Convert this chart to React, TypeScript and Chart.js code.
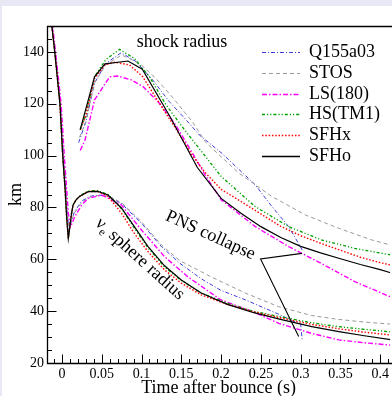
import React, { useEffect, useRef } from "react";
import { Chart, registerables } from "chart.js";

Chart.register(...registerables);

// ---------- axes ----------
const X_MIN = -0.01875;
const X_MAX = 0.4125;
const Y_MIN = 20;
const Y_MAX = 150;
const X_TICKS = [0, 0.05, 0.1, 0.15, 0.2, 0.25, 0.3, 0.35, 0.4];
const X_TICK_LABELS = ["0", "0.05", "0.1", "0.15", "0.2", "0.25", "0.3", "0.35", "0.4"];
const Y_TICKS = [20, 40, 60, 80, 100, 120, 140];
const Y_TICK_LABELS = ["20", "40", "60", "80", "100", "120", "140"];
const X_TITLE = "Time after bounce (s)";
const Y_TITLE = "km";

// ---------- models ----------
const MODELS = ["Q155a03", "STOS", "LS(180)", "HS(TM1)", "SFHx", "SFHo"];

// shock radius (km) vs time after bounce (s)
const Q155_SHOCK_T = [0.021, 0.03, 0.041, 0.055, 0.0745, 0.093, 0.114, 0.135, 0.156, 0.1725, 0.201, 0.243, 0.264, 0.285, 0.302];
const Q155_SHOCK_R = [105, 113, 128, 135.5, 139.7, 136.3, 129.2, 120.8, 113.8, 108, 100.9, 88.7, 80.3, 72.6, 63.6];
const STOS_SHOCK_T = [0.022, 0.03, 0.041, 0.055, 0.075, 0.0975, 0.118, 0.139, 0.164, 0.181, 0.2225, 0.264, 0.306, 0.3475, 0.389, 0.413];
const STOS_SHOCK_R = [107, 113, 128, 135, 138.8, 135.6, 129.8, 122.5, 113, 105, 93.2, 84.2, 77.1, 72, 67.5, 65.5];
const LS_SHOCK_T = [0.023, 0.029, 0.041, 0.06, 0.07, 0.087, 0.102, 0.1225, 0.143, 0.164, 0.18, 0.2, 0.243, 0.285, 0.326, 0.368, 0.413];
const LS_SHOCK_R = [102, 106, 121.5, 130.4, 130.7, 129.2, 126.6, 120.2, 111.8, 101, 92.5, 83, 72.6, 64.9, 58.4, 51.4, 45.5];
const HS_SHOCK_T = [0.023, 0.03, 0.041, 0.055, 0.0725, 0.091, 0.11, 0.131, 0.151, 0.168, 0.2, 0.243, 0.285, 0.326, 0.368, 0.413];
const HS_SHOCK_R = [110, 115.5, 130.5, 137, 141, 137.5, 130.4, 119.5, 111.2, 104.5, 92, 80.3, 72.6, 67.5, 64.2, 61.7];
const SFHX_SHOCK_T = [0.023, 0.03, 0.041, 0.054, 0.066, 0.085, 0.1016, 0.1225, 0.143, 0.164, 0.18, 0.2, 0.225, 0.25, 0.275, 0.3, 0.325, 0.35, 0.375, 0.4, 0.413];
const SFHX_SHOCK_R = [110, 115.5, 129.8, 135, 136, 135, 130.4, 120.2, 110.5, 100, 93.5, 87, 82.3, 77.5, 72.7, 69.1, 66.2, 63.5, 60.8, 58.7, 57.8];
const SFHO_SHOCK_T = [0.023, 0.041, 0.054, 0.083, 0.101, 0.135, 0.17, 0.2, 0.225, 0.25, 0.275, 0.3, 0.325, 0.35, 0.375, 0.4, 0.413];
const SFHO_SHOCK_R = [110, 130.4, 135.4, 136.5, 133.3, 115.5, 95.5, 83.5, 77.8, 72.6, 68.4, 65, 62.5, 60.2, 58, 56, 54.8];

// electron-neutrino sphere radius (km) vs time after bounce (s)
const Q155_NU_T = [-0.0145, -0.009, -0.002, 0.002, 0.005, 0.007, 0.009, 0.012, 0.016, 0.025, 0.035, 0.047, 0.06, 0.0745, 0.1, 0.125, 0.148, 0.175, 0.2, 0.231, 0.2725, 0.29, 0.3, 0.302];
const Q155_NU_R = [155, 140, 120, 100, 87, 77, 71, 75, 78.5, 82.5, 84.3, 84.8, 84, 81.6, 73.9, 64.9, 58.5, 52.5, 48, 44.3, 38.8, 36.2, 35, 28.5];
const STOS_NU_T = [-0.0145, -0.009, -0.002, 0.002, 0.005, 0.007, 0.009, 0.012, 0.016, 0.025, 0.035, 0.05, 0.06, 0.075, 0.1, 0.125, 0.148, 0.189, 0.231, 0.2725, 0.314, 0.348, 0.38, 0.413];
const STOS_NU_R = [155, 140, 120, 100, 87, 77, 71, 75, 78, 82, 84, 84.8, 84.2, 81.8, 74.5, 65.5, 59.5, 53, 46.9, 41.7, 38.3, 36.8, 35.8, 35];
const LS_NU_T = [-0.0135, -0.008, -0.001, 0.003, 0.006, 0.008, 0.0105, 0.013, 0.016, 0.025, 0.033, 0.05, 0.0745, 0.1, 0.129, 0.158, 0.2, 0.239, 0.2725, 0.314, 0.348, 0.38, 0.413];
const LS_NU_R = [155, 140, 120, 100, 87, 78, 72.5, 74, 76.4, 81, 83.5, 84.8, 81, 71.3, 61, 53.3, 44.3, 39.9, 35.3, 31.4, 28.9, 27.8, 26.9];
const NU_T = [-0.0145, -0.009, -0.0025, 0.001, 0.004, 0.006, 0.008, 0.0105, 0.012, 0.014, 0.018, 0.0225, 0.033, 0.045, 0.058, 0.075, 0.091, 0.108, 0.129, 0.15, 0.175, 0.208, 0.24, 0.272, 0.314, 0.348, 0.38, 0.413];
const HS_NU_R = [155, 140, 120, 100, 87, 76, 68, 74, 77.5, 81, 83, 84.5, 86.4, 86.5, 85, 79.5, 72, 64.5, 57, 51.8, 47, 43, 40, 38, 35.5, 34, 33, 32];
const SFHX_NU_R = [155, 140, 120, 100, 87, 76, 68, 74, 77.5, 81, 83, 84.3, 86.1, 86.2, 84.3, 77.7, 70, 63, 55.9, 50.8, 46.3, 42.6, 39.8, 37.6, 34.9, 33.2, 31.9, 30.8];
const SFHO_NU_R = [155, 140, 120, 100, 87, 76, 68, 74, 77.5, 81, 83, 84.3, 86.1, 86.2, 84.8, 79.7, 72.6, 65, 57.5, 52, 47, 42.6, 39.5, 37, 34, 32.1, 30.5, 29];

// annotation pointer lines (from the "PNS collapse" label to the collapse points)
const PNS_POINTER_T = [0.3016, 0.2496, 0.2975];
const PNS_POINTER_R = [62.3, 60.1, 30.2];

// text labels: anchor in data coordinates
const SHOCK_LABEL = { text: "shock radius", t: 0.094, r: 141.9 };
const PNS_LABEL = { text: "PNS collapse", t: 0.129, r: 75.3 };
const NU_LABEL = { t: 0.041, r: 73.4 };

// ---------- styles ----------
const FONT = "'Liberation Serif', 'Times New Roman', serif";
const STYLES: Record<string, { color: string; width: number; dash: number[] }> = {
  "Q155a03": { color: "#3c3cdc", width: 1, dash: [4, 2, 1, 2] },
  "STOS": { color: "#9a9a9a", width: 1, dash: [4, 3] },
  "LS(180)": { color: "#ff00ff", width: 1.4, dash: [5, 2, 1.5, 2] },
  "HS(TM1)": { color: "#00a000", width: 1.3, dash: [3, 2, 1.2, 2, 1.2, 2] },
  "SFHx": { color: "#ff0000", width: 1.4, dash: [1.5, 1.8] },
  "SFHo": { color: "#000000", width: 1.2, dash: [] },
};

const SERIES: Record<string, [number[], number[], number[], number[]]> = {
  "Q155a03": [Q155_SHOCK_T, Q155_SHOCK_R, Q155_NU_T, Q155_NU_R],
  "STOS": [STOS_SHOCK_T, STOS_SHOCK_R, STOS_NU_T, STOS_NU_R],
  "LS(180)": [LS_SHOCK_T, LS_SHOCK_R, LS_NU_T, LS_NU_R],
  "HS(TM1)": [HS_SHOCK_T, HS_SHOCK_R, NU_T, HS_NU_R],
  "SFHx": [SFHX_SHOCK_T, SFHX_SHOCK_R, NU_T, SFHX_NU_R],
  "SFHo": [SFHO_SHOCK_T, SFHO_SHOCK_R, NU_T, SFHO_NU_R],
};

const pts = (xs: number[], ys: number[]) => xs.map((x, i) => ({ x, y: ys[i] }));

function lineDs(label: string, xs: number[], ys: number[], s: { color: string; width: number; dash: number[] }) {
  return {
    label,
    data: pts(xs, ys),
    borderColor: s.color,
    backgroundColor: s.color,
    borderWidth: s.width,
    borderDash: s.dash,
    pointRadius: 0,
    pointHoverRadius: 0,
    tension: 0,
    fill: false,
  };
}

const bgPlugin = {
  id: "bgPlugin",
  beforeDraw(chart: any) {
    const { ctx, width, height } = chart;
    ctx.save();
    ctx.fillStyle = "#e8e8f4";
    ctx.fillRect(0, 0, width, height);
    ctx.fillStyle = "#ffffff";
    ctx.fillRect(2, 6, width - 2, height - 6);
    ctx.restore();
  },
};

const framePlugin = {
  id: "framePlugin",
  afterDraw(chart: any) {
    const { ctx, chartArea: a, scales } = chart;
    const xs = scales.x;
    const ys = scales.y;
    ctx.save();
    ctx.strokeStyle = "#000";
    ctx.setLineDash([]);
    ctx.lineWidth = 1.3;
    const L = Math.round(a.left) + 0.5;
    const B = Math.round(a.bottom) + 0.5;
    const T = Math.round(a.top) + 0.5;
    ctx.beginPath();
    ctx.moveTo(a.right + 2, T);
    ctx.lineTo(L, T);
    ctx.lineTo(L, B);
    ctx.lineTo(a.right + 2, B);
    ctx.stroke();

    ctx.lineWidth = 1;
    ctx.beginPath();
    // x ticks (inward)
    for (let k = -1; k <= 41; k++) {
      const v = k / 100;
      if (v < X_MIN || v > X_MAX) continue;
      const px = Math.round(xs.getPixelForValue(v)) + 0.5;
      const len = k % 5 === 0 ? 9 : 4.5;
      ctx.moveTo(px, B);
      ctx.lineTo(px, B - len);
    }
    // y ticks (inward)
    for (let v = 20; v <= 150; v += 5) {
      const py = Math.round(ys.getPixelForValue(v)) + 0.5;
      const len = v % 20 === 0 ? 9 : 4.5;
      ctx.moveTo(L, py);
      ctx.lineTo(L + len, py);
    }
    ctx.stroke();

    // text labels
    ctx.fillStyle = "#000";
    ctx.font = `18px ${FONT}`;
    ctx.textBaseline = "alphabetic";
    ctx.textAlign = "left";
    ctx.fillText(SHOCK_LABEL.text, xs.getPixelForValue(SHOCK_LABEL.t), ys.getPixelForValue(SHOCK_LABEL.r));

    ctx.save();
    ctx.translate(xs.getPixelForValue(PNS_LABEL.t), ys.getPixelForValue(PNS_LABEL.r));
    ctx.rotate((24.5 * Math.PI) / 180);
    ctx.fillText(PNS_LABEL.text, 0, 0);
    ctx.restore();

    ctx.save();
    ctx.translate(xs.getPixelForValue(NU_LABEL.t), ys.getPixelForValue(NU_LABEL.r));
    ctx.rotate((42 * Math.PI) / 180);
    ctx.font = `18px ${FONT}`;
    ctx.fillText("\u03bd", 0, 0);
    let w = ctx.measureText("\u03bd").width;
    ctx.font = `12px ${FONT}`;
    ctx.fillText("e", w, 4);
    w += ctx.measureText("e").width;
    ctx.font = `18px ${FONT}`;
    ctx.fillText(" sphere radius", w, 0);
    ctx.restore();

    // legend
    const lx1 = a.left + 215;
    const lx2 = a.left + 253;
    const tx = a.left + 262;
    MODELS.forEach((m, i) => {
      const s = STYLES[m];
      const y = Math.round(a.top + 26 + i * 20.8) + 0.5;
      ctx.strokeStyle = s.color;
      ctx.lineWidth = m === "SFHo" ? 1.6 : s.width;
      ctx.setLineDash(s.dash);
      ctx.beginPath();
      ctx.moveTo(lx1, y);
      ctx.lineTo(lx2, y);
      ctx.stroke();
      ctx.setLineDash([]);
      ctx.fillStyle = "#000";
      ctx.font = `18px ${FONT}`;
      ctx.textBaseline = "middle";
      ctx.fillText(m, tx, y);
    });
    ctx.restore();
  },
};

export default function App() {
  const ref = useRef<HTMLCanvasElement | null>(null);
  useEffect(() => {
    if (!ref.current) return;
    const datasets: any[] = [];
    datasets.push(lineDs("pointer", PNS_POINTER_T, PNS_POINTER_R, { color: "#000", width: 1.1, dash: [] }));
    const order = ["SFHo", "SFHx", "HS(TM1)", "LS(180)", "STOS", "Q155a03"];
    for (const m of order) {
      const [st, sr, nt, nr] = SERIES[m];
      datasets.push(lineDs(m + " shock", st, sr, STYLES[m]));
      datasets.push(lineDs(m + " nu", nt, nr, STYLES[m]));
    }
    const chart = new Chart(ref.current, {
      type: "line",
      data: { datasets },
      plugins: [bgPlugin, framePlugin],
      options: {
        animation: false,
        responsive: false,
        devicePixelRatio: 1,
        layout: { padding: { top: 26, left: 0, right: 0, bottom: 0 } },
        plugins: { legend: { display: false }, tooltip: { enabled: false } },
        events: [],
        scales: {
          x: {
            type: "linear",
            min: X_MIN,
            max: X_MAX,
            grid: { display: false, drawTicks: false },
            border: { display: false },
            afterBuildTicks: (s: any) => {
              s.ticks = X_TICKS.map((v) => ({ value: v }));
            },
            afterFit: (s: any) => {
              s.height = 33;
            },
            ticks: {
              autoSkip: false,
              maxRotation: 0,
              padding: 3,
              color: "#000",
              font: { family: FONT, size: 14 },
              callback: (_v: any, i: number) => X_TICK_LABELS[i],
            },
            title: {
              display: true,
              text: X_TITLE,
              color: "#000",
              font: { family: FONT, size: 18, lineHeight: 1 },
              padding: { top: 0, bottom: -1 },
            },
          },
          y: {
            type: "linear",
            min: Y_MIN,
            max: Y_MAX,
            grid: { display: false, drawTicks: false },
            border: { display: false },
            afterBuildTicks: (s: any) => {
              s.ticks = Y_TICKS.map((v) => ({ value: v }));
            },
            afterFit: (s: any) => {
              s.width = 47;
            },
            ticks: {
              padding: 3,
              color: "#000",
              font: { family: FONT, size: 14 },
              callback: (_v: any, i: number) => Y_TICK_LABELS[i],
            },
            title: {
              display: true,
              text: Y_TITLE,
              color: "#000",
              font: { family: FONT, size: 18, lineHeight: 1.2 },
              padding: { top: 5, bottom: 0 },
            },
          },
        },
      } as any,
    });
    return () => chart.destroy();
  }, []);
  return (
    <div style={{ position: "fixed", left: 0, top: 0, width: 392, height: 396, overflow: "hidden" }}>
      <canvas ref={ref} width={392} height={396} style={{ display: "block", width: 392, height: 396 }} />
    </div>
  );
}
